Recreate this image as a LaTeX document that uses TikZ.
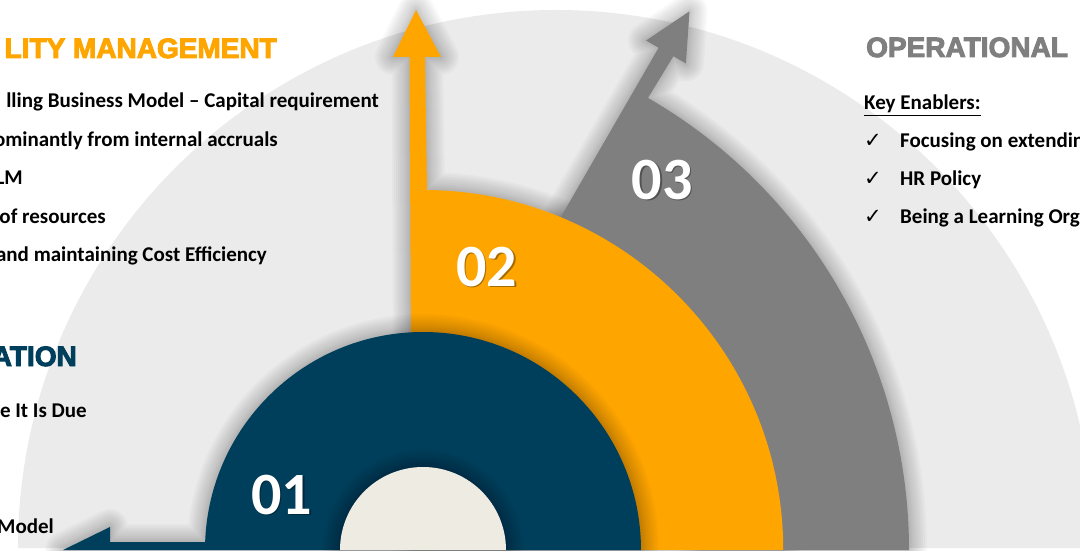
\documentclass[tikz,border=0pt]{standalone}
\usepackage{fontspec}
\setmainfont{Carlito}
\newfontfamily\headfont[BoldFeatures={FakeBold=3.5}]{Liberation Sans}
\newfontfamily\symfont{DejaVu Sans}
\usetikzlibrary{calc}
\definecolor{navyblue}{HTML}{003F5C}
\definecolor{amber}{HTML}{FFA500}
\definecolor{steelgray}{HTML}{7F7F7F}
\definecolor{palegray}{HTML}{EBEBEB}
\definecolor{beige}{HTML}{EEECE2}
% soft shadow round a shape
\tikzset{glowstep/.style={preaction={draw=black, draw opacity=0.022, line width=#1, line join=round}}}
\tikzset{glow/.style={glowstep=36pt, glowstep=32pt, glowstep=28pt, glowstep=24pt,
    glowstep=20pt, glowstep=16pt, glowstep=12pt, glowstep=9pt, glowstep=6pt, glowstep=3pt}}
\tikzset{headtxt/.style={inner sep=0pt, font=\headfont\bfseries\fontsize{28}{30}\selectfont}}
\tikzset{bodytxt/.style={inner sep=0pt, font=\bfseries\fontsize{21}{25}\selectfont}}
\tikzset{ticktxt/.style={inner sep=0pt, font=\symfont\fontsize{21}{21}\selectfont}}
\tikzset{numtxt/.style={inner sep=0pt, text=white, font=\bfseries\fontsize{60}{60}\selectfont}}
\tikzset{numshade/.style={numtxt, text=black, opacity=0.35}}
\newcommand{\bandtwo}{(412,0) -- (409.5,493) -- (393,493) -- (416,540)
  -- (441,493) -- (425,493) -- (427,360)
  arc[start angle=89.4, end angle=0, radius=360] -- cycle}

\begin{document}
\begin{tikzpicture}[x=1pt,y=1pt]
  \useasboundingbox (0,0) rectangle (1080,550);
  \clip (0,0) rectangle (1080,550);
  % background half disc
  \fill[palegray] (18,2) arc[start angle=180, end angle=0, radius=538] -- cycle;
  % shadow of the second band, kept under the third one
  \path[glow] \bandtwo;
  % third band and its arrow
  \fill[steelgray, glow] (508.6,242.4) -- (700,0) -- (909,0)
    arc[start angle=0, end angle=60, radius=522] -- (673.4,493.8)
    -- (685.9,486.5) -- (689.5,538.7) -- (646.1,509.5) -- (658.6,502.2) -- cycle;
  % second band and its arrow
  \fill[amber] \bandtwo;
  % first disc and the arrow to the left
  \fill[navyblue, glow] (63,0) -- (110,23) -- (110,8) -- (300,8) -- (300,0) -- cycle
    (205,0) arc[start angle=180, end angle=0, radius=218] -- cycle;
  \fill[beige, glow] (340,0) arc[start angle=180, end angle=0, radius=83] -- cycle;

  % numbers
  \node[numshade] (n01s) at (283,53.5) {01};
  \node[numtxt] (n01) at (281.5,55) {01};
  \node[numshade] (n02s) at (488,281.5) {02};
  \node[numtxt] (n02) at (486.5,283) {02};
  \node[numshade] (n03s) at (663.5,368.5) {03};
  \node[numtxt] (n03) at (662,370) {03};

  % left texts
  \node[headtxt, text=amber, anchor=base east] (liqhead) at (277,492) {LITY MANAGEMENT};
  \node[bodytxt, anchor=base east] (liq1) at (379,442) {lling Business Model – Capital requirement};
  \node[bodytxt, anchor=base east] (liq2) at (278,403) {ominantly from internal accruals};
  \node[bodytxt, anchor=base east] (liq3) at (23,365) {LM};
  \node[bodytxt, anchor=base east] (liq4) at (106,326) {of resources};
  \node[bodytxt, anchor=base east] (liq5) at (267,288) {and maintaining Cost Efficiency};
  \node[headtxt, text=navyblue, anchor=base east] (valhead) at (77,184) {ATION};
  \node[bodytxt, anchor=base east] (val1) at (87,133) {re It Is Due};
  \node[bodytxt, anchor=base east] (val2) at (54,17) {Model};

  % right texts
  \node[headtxt, text=steelgray, anchor=base west] (oprhead) at (866,493) {OPERATIONAL};
  \node[bodytxt, anchor=base west] (keyen) at (864,440) {\underline{Key Enablers:}};
  \node[ticktxt, anchor=base west] (chk1) at (864,402) {✓};
  \node[bodytxt, anchor=base west] (opr1) at (900,402) {Focusing on extendin};
  \node[ticktxt, anchor=base west] (chk2) at (864,364) {✓};
  \node[bodytxt, anchor=base west] (opr2) at (900,364) {HR Policy};
  \node[ticktxt, anchor=base west] (chk3) at (864,326) {✓};
  \node[bodytxt, anchor=base west] (opr3) at (900,326) {Being a Learning Org};
\end{tikzpicture}
\end{document}
